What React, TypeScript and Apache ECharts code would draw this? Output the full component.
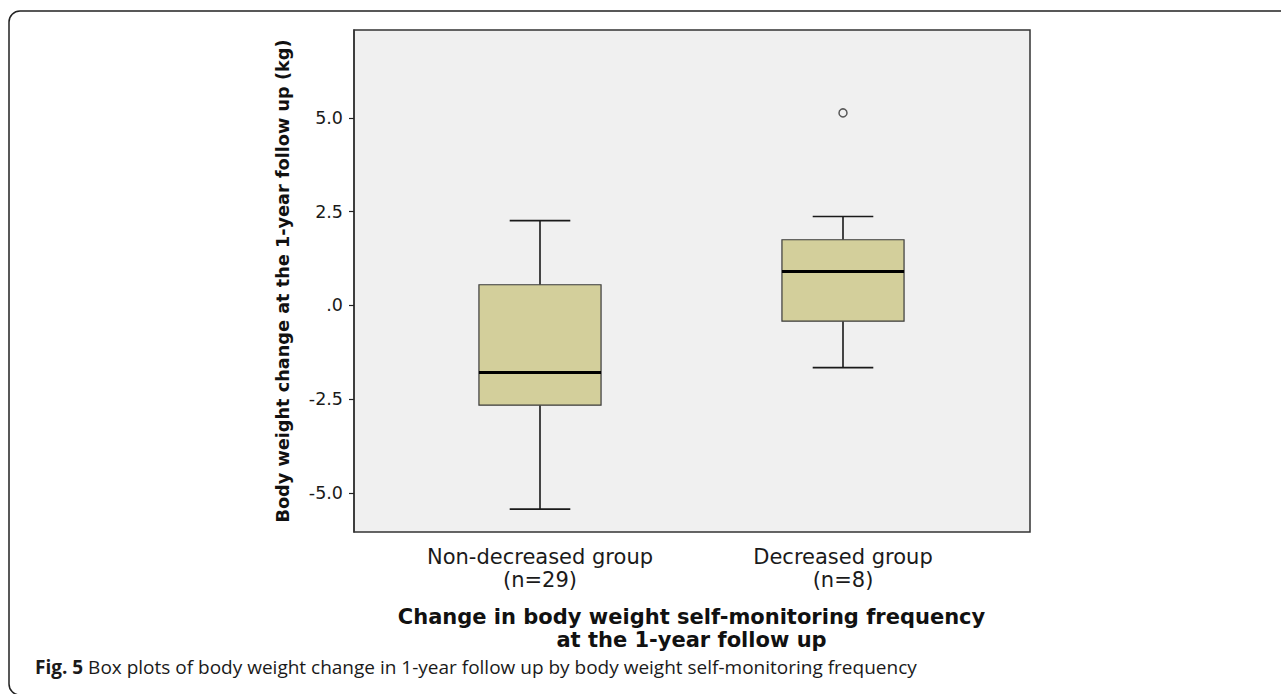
import React, { useEffect, useRef } from "react";
import * as echarts from "echarts";

const categories = ["Non-decreased group\n(n=29)", "Decreased group\n(n=8)"];
const whiskerLow = [-5.43, -1.66];
const quartile1 = [-2.66, -0.42];
const medians = [-1.79, 0.9];
const quartile3 = [0.55, 1.75];
const whiskerHigh = [2.26, 2.37];
const outliers = [[1, 5.13]];
const yTickValues = [-5, -2.5, 0, 2.5, 5];
const yMin = -6.04;
const yMax = 7.34;

const FONT = "DejaVu Sans";

export default function App() {
  const ref = useRef<HTMLDivElement>(null);
  useEffect(() => {
    if (!ref.current) return;
    const chart = echarts.init(ref.current, undefined, { renderer: "svg" });
    const boxData = categories.map((_, i) => [
      i,
      whiskerLow[i],
      quartile1[i],
      medians[i],
      quartile3[i],
      whiskerHigh[i],
    ]);
    const fmt = (v: number) => (v === 0 ? ".0" : v.toFixed(1));
    chart.setOption({
      animation: false,
      backgroundColor: "#ffffff",
      title: {
        left: 30,
        top: 652,
        text: "{b|Fig. 5} Box plots of body weight change in 1-year follow up by body weight self-monitoring frequency",
        textStyle: {
          fontFamily: "Open Sans",
          fontSize: 19,
          fontWeight: "normal",
          color: "#1a1a1a",
          rich: {
            b: { fontFamily: "Open Sans", fontSize: 19, fontWeight: "bold", color: "#1a1a1a" },
          },
        },
      },
      graphic: [
        {
          type: "rect",
          silent: true,
          shape: { x: 9, y: 11, width: 1320, height: 684, r: [11, 0, 0, 11] },
          style: { fill: "none", stroke: "#222", lineWidth: 1.5 },
        },
      ],
      grid: [
        {
          left: 354,
          right: 1281 - 1030,
          top: 30,
          bottom: 694 - 532,
          show: true,
          backgroundColor: "#f0f0f0",
          borderColor: "#333",
          borderWidth: 1.5,
          containLabel: false,
        },
        {
          left: 388.5,
          right: 1281 - 994.5,
          top: 30,
          bottom: 694 - 532,
          containLabel: false,
        },
      ],
      xAxis: [
        { type: "value", gridIndex: 0, show: false, min: 0, max: 1 },
        {
          type: "category",
          gridIndex: 1,
          data: categories,
          boundaryGap: true,
          axisLine: { show: false },
          axisTick: {
            show: true,
            alignWithLabel: true,
            length: 7,
            lineStyle: { color: "#222", width: 1.2 },
          },
          axisLabel: {
            fontFamily: FONT,
            fontSize: 21,
            lineHeight: 23,
            color: "#1a1a1a",
            margin: 13,
            interval: 0,
          },
          splitLine: { show: false },
          name: "Change in body weight self-monitoring frequency\nat the 1-year follow up",
          nameLocation: "middle",
          nameGap: 73,
          nameTextStyle: {
            fontFamily: FONT,
            fontSize: 21,
            fontWeight: "bold",
            lineHeight: 23,
            color: "#111",
          },
        },
      ],
      yAxis: [
        {
          type: "value",
          gridIndex: 0,
          min: yMin,
          max: yMax,
          axisLine: { show: true, lineStyle: { color: "#333", width: 1.5 } },
          axisTick: {
            show: true,
            length: 5,
            customValues: yTickValues,
            lineStyle: { color: "#222", width: 1.2 },
          },
          axisLabel: {
            customValues: yTickValues,
            formatter: fmt,
            fontFamily: FONT,
            fontSize: 17.5,
            color: "#1a1a1a",
            margin: 11,
          },
          splitLine: { show: false },
          name: "Body weight change at the 1-year follow up (kg)",
          nameLocation: "middle",
          nameGap: 62,
          nameTextStyle: {
            fontFamily: FONT,
            fontSize: 17.7,
            fontWeight: "bold",
            color: "#111",
          },
        },
        { type: "value", gridIndex: 1, min: yMin, max: yMax, show: false, splitLine: { show: false } },
      ],
      series: [
        {
          type: "custom",
          xAxisIndex: 1,
          yAxisIndex: 1,
          data: boxData,
          encode: { x: 0, y: [1, 2, 3, 4, 5] },
          renderItem: (params: any, api: any) => {
            const cat = api.value(0);
            const pLow = api.coord([cat, api.value(1)]);
            const pQ1 = api.coord([cat, api.value(2)]);
            const pMed = api.coord([cat, api.value(3)]);
            const pQ3 = api.coord([cat, api.value(4)]);
            const pHigh = api.coord([cat, api.value(5)]);
            const band = api.size([1, 0])[0];
            const bw = band * 0.403;
            const cw = band * 0.2;
            const cx = pMed[0];
            const ls = { stroke: "#1a1a1a", lineWidth: 1.6 };
            return {
              type: "group",
              children: [
                { type: "line", shape: { x1: cx, y1: pHigh[1], x2: cx, y2: pQ3[1] }, style: ls },
                { type: "line", shape: { x1: cx, y1: pQ1[1], x2: cx, y2: pLow[1] }, style: ls },
                { type: "line", shape: { x1: cx - cw / 2, y1: pHigh[1], x2: cx + cw / 2, y2: pHigh[1] }, style: ls },
                { type: "line", shape: { x1: cx - cw / 2, y1: pLow[1], x2: cx + cw / 2, y2: pLow[1] }, style: ls },
                {
                  type: "rect",
                  shape: { x: cx - bw / 2, y: pQ3[1], width: bw, height: pQ1[1] - pQ3[1] },
                  style: { fill: "#d3cf9b", stroke: "#3a3a3a", lineWidth: 1.2 },
                },
                {
                  type: "line",
                  shape: { x1: cx - bw / 2, y1: pMed[1], x2: cx + bw / 2, y2: pMed[1] },
                  style: { stroke: "#000", lineWidth: 3 },
                },
              ],
            };
          },
          z: 3,
        },
        {
          type: "scatter",
          xAxisIndex: 1,
          yAxisIndex: 1,
          data: outliers,
          symbol: "circle",
          symbolSize: 8,
          itemStyle: { color: "#f0f0f0", borderColor: "#333", borderWidth: 1.5 },
          z: 4,
        },
      ],
    });
    return () => chart.dispose();
  }, []);
  return (
    <div
      ref={ref}
      style={{ position: "fixed", left: 0, top: 0, width: 1281, height: 694 }}
    />
  );
}
